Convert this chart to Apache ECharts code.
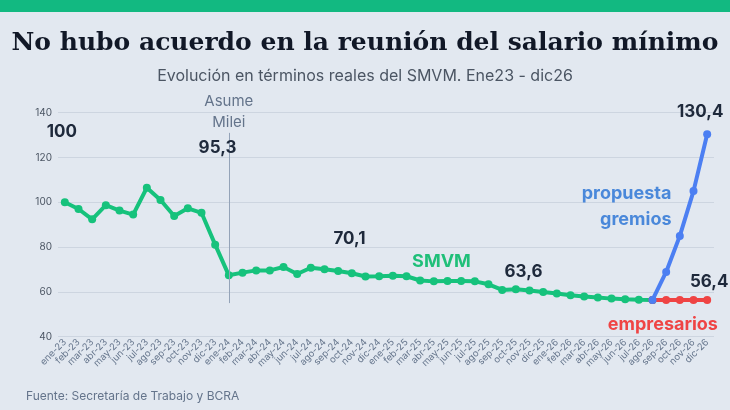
<!DOCTYPE html>
<html>
<head>
<meta charset="utf-8">
<script src="https://cdn.jsdelivr.net/npm/echarts@6/dist/echarts.min.js"></script>
<style>
  html, body { margin: 0; padding: 0; background: #e2e8f0; }
  #chart { width: 730px; height: 410px; }
</style>
</head>
<body>
<div id="chart"></div>
<script>
// meses ene-23 ... dic-26
var meses = ['ene-23','feb-23','mar-23','abr-23','may-23','jun-23','jul-23','ago-23','sep-23','oct-23','nov-23','dic-23',
  'ene-24','feb-24','mar-24','abr-24','may-24','jun-24','jul-24','ago-24','sep-24','oct-24','nov-24','dic-24',
  'ene-25','feb-25','mar-25','abr-25','may-25','jun-25','jul-25','ago-25','sep-25','oct-25','nov-25','dic-25',
  'ene-26','feb-26','mar-26','abr-26','may-26','jun-26','jul-26','ago-26','sep-26','oct-26','nov-26','dic-26'];

// SMVM real (ene23 = 100), hasta ago-26
var smvm = [100, 97.0, 92.4, 98.7, 96.3, 94.5, 106.5, 101.0, 93.9, 97.3, 95.3, 81.1,
  67.4, 68.6, 69.6, 69.6, 71.1, 68.0, 70.8, 70.1, 69.3, 68.3, 66.9, 67.0,
  67.2, 67.0, 65.1, 64.7, 64.9, 64.9, 64.7, 63.4, 60.9, 61.2, 60.6, 60.0,
  59.3, 58.5, 57.9, 57.5, 57.0, 56.7, 56.5, 56.4];

// escenarios desde ago-26
var gremios = [56.4, 68.9, 85.0, 105.0, 130.4];
var empresarios = [56.4, 56.4, 56.4, 56.4, 56.4];

var yTicks = { min: 40, max: 140, interval: 20 };

var inicioEsc = meses.length - gremios.length;
function rellenar(vals) {
  var out = [];
  for (var i = 0; i < meses.length; i++) out.push(i >= inicioEsc ? vals[i - inicioEsc] : null);
  return out;
}
function anota(mes, valor, texto, dx, dy, estilo) {
  var lbl = { show: true, position: 'inside', formatter: texto, offset: [dx, dy],
    fontFamily: 'Inter', fontSize: 17, fontWeight: 'bold', color: '#1e293b' };
  if (estilo) for (var k in estilo) lbl[k] = estilo[k];
  return { coord: [mes, valor], label: lbl };
}

var verde = '#16c27c', azul = '#4c7ff2', rojo = '#ef4444';
var myChart = echarts.init(document.getElementById('chart'));
myChart.setOption({
  backgroundColor: '#e2e8f0',
  animation: false,
  textStyle: { fontFamily: 'Inter' },
  graphic: [{ type: 'rect', left: 0, top: 0, shape: { width: 730, height: 12 }, style: { fill: '#12b981' } }],
  title: [
    { text: 'No hubo acuerdo en la reunión del salario mínimo', left: 'center', top: 26,
      textStyle: { fontFamily: 'DejaVu Serif', fontWeight: 'bold', fontSize: 25, color: '#111827' } },
    { text: 'Evolución en términos reales del SMVM. Ene23 - dic26', left: 'center', top: 63,
      textStyle: { fontFamily: 'Inter', fontWeight: 'normal', fontSize: 16, color: '#4b5563' } },
    { text: 'Fuente: Secretaría de Trabajo y BCRA', left: 21, top: 385,
      textStyle: { fontFamily: 'Inter', fontWeight: 'normal', fontSize: 12, color: '#64748b' } }
  ],
  grid: { left: 58, right: 16, top: 112.7, bottom: 73.3 },
  xAxis: {
    type: 'category', data: meses, boundaryGap: true,
    axisLine: { show: false }, axisTick: { show: false },
    axisLabel: { rotate: 45, interval: 0, fontSize: 9.5, margin: 4, color: '#64748b' }
  },
  yAxis: {
    type: 'value', min: yTicks.min, max: yTicks.max, interval: yTicks.interval,
    axisLabel: { fontSize: 10, margin: 6, color: '#4b5563' },
    splitLine: { lineStyle: { color: '#cdd5e0', width: 1 } }
  },
  series: [
    {
      name: 'SMVM', type: 'line', data: smvm, z: 2,
      symbol: 'circle', symbolSize: 8,
      lineStyle: { color: verde, width: 4 }, itemStyle: { color: verde },
      markLine: {
        silent: true, symbol: ['none', 'none'],
        lineStyle: { color: '#94a3b8', width: 1, type: 'solid' },
        label: { show: true, position: 'start', distance: 0, formatter: 'Asume\nMilei',
          fontSize: 15, lineHeight: 21, color: '#64748b' },
        data: [[{ coord: ['ene-24', 131] }, { coord: ['ene-24', 55] }]]
      },
      markPoint: {
        symbol: 'circle', symbolSize: 0, silent: true,
        data: [
          anota('ene-23', 100, '100', -3, -70),
          anota('nov-23', 95.3, '95,3', 16, -65),
          anota('ago-24', 70.1, '70,1', 25, -30),
          anota('ago-25', 63.4, '63,6', 35, -12),
          anota('may-25', 64.9, 'SMVM', -6, -19, { color: '#1fbf79', fontSize: 18 })
        ]
      }
    },
    {
      name: 'empresarios', type: 'line', data: rellenar(empresarios), z: 3,
      symbol: 'circle', symbolSize: 8,
      lineStyle: { color: rojo, width: 4 }, itemStyle: { color: rojo },
      markPoint: {
        symbol: 'circle', symbolSize: 0, silent: true,
        data: [
          anota('dic-26', 56.4, '56,4', 2, -18),
          anota('oct-26', 56.4, 'empresarios', -17, 25, { color: rojo, fontSize: 18 })
        ]
      }
    },
    {
      name: 'propuesta gremios', type: 'line', data: rellenar(gremios), z: 4,
      symbol: 'circle', symbolSize: 8,
      lineStyle: { color: azul, width: 4 }, itemStyle: { color: azul },
      markPoint: {
        symbol: 'circle', symbolSize: 0, silent: true,
        data: [
          anota('dic-26', 130.4, '130,4', -7, -22),
          anota('nov-26', 105, 'propuesta\ngremios', -22, 15,
            { color: '#4a88da', fontSize: 18, align: 'right', lineHeight: 26 })
        ]
      }
    }
  ]
});
</script>
</body>
</html>
